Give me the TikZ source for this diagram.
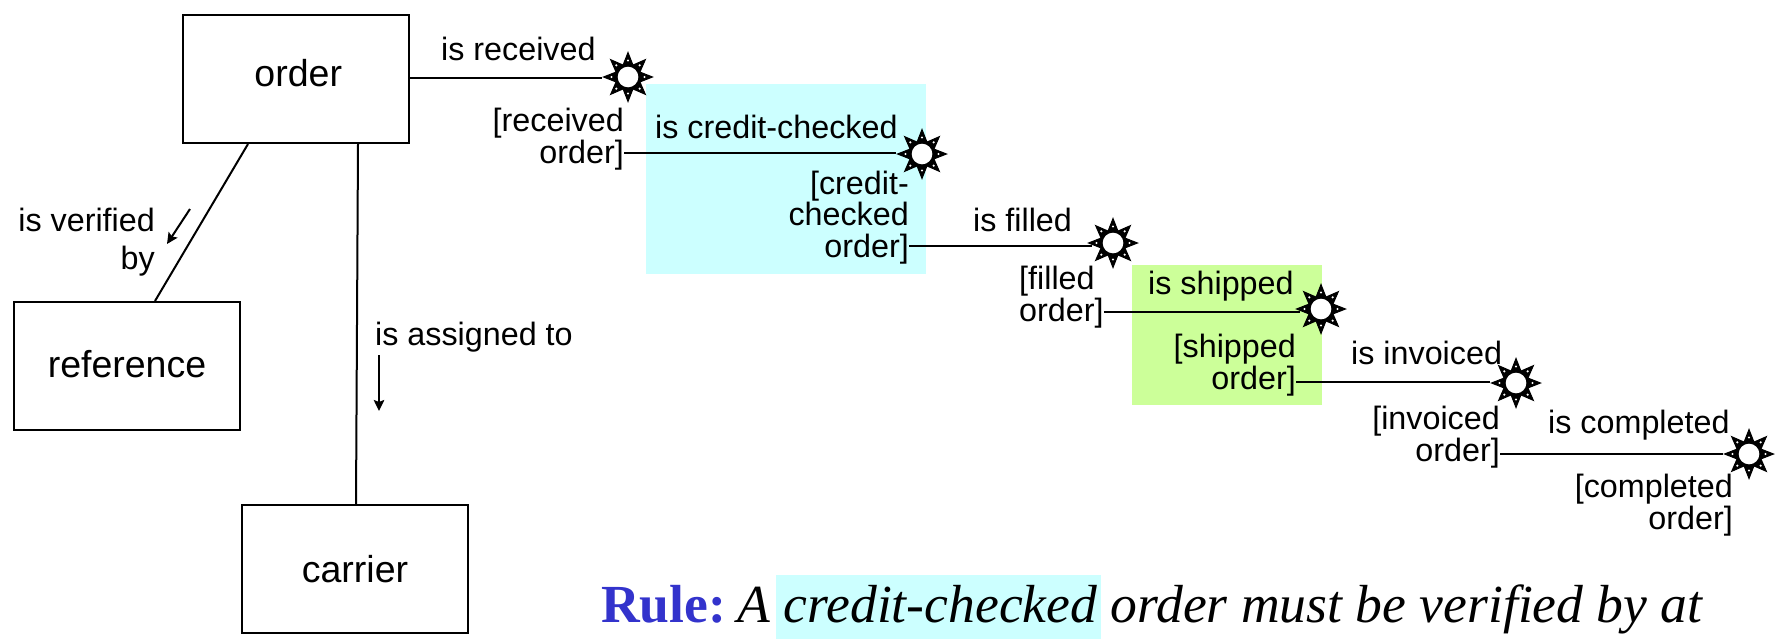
\documentclass[tikz,border=0pt]{standalone}
\usepackage{fontspec}
\setmainfont{Liberation Sans}
\newfontfamily\rulefont{Liberation Serif}
\usetikzlibrary{arrows.meta, positioning, shapes.geometric}
\definecolor{creditcyan}{HTML}{CCFFFF}
\definecolor{shipgreen}{HTML}{CCFF99}
\definecolor{ruleblue}{HTML}{3333CC}
\tikzset{
  typebox/.style={draw, rectangle, line width=2pt, minimum width=226pt, minimum height=128pt, font=\fontsize{37.5}{37.5}\selectfont},
  sunburst/.style={star, star points=8, star point ratio=1.9, draw, line width=1pt, fill=black, minimum size=49pt, inner sep=0pt,
    path picture={
      \fill[white] (path picture bounding box.center) circle (10.3pt);
      \foreach \ang in {0,45,...,315} {
        \fill[white] (path picture bounding box.center) ++(\ang:16.5pt) circle (1.2pt);
      }
    }},
  lbl/.style={inner sep=0pt, font=\fontsize{32.3}{31.5}\selectfont},
  link/.style={line width=2pt},
  hint/.style={line width=2pt, -{Stealth[length=11pt, width=10.5pt, inset=2pt]}},
}
\begin{document}
\begin{tikzpicture}[x=1pt, y=-1pt, on grid]
    \useasboundingbox (0,0) rectangle (1782,640);
    % Highlighted states
    \fill[creditcyan] (646,84) rectangle (926,274);
    \fill[shipgreen] (1132,265) rectangle (1322,405);
    \fill[creditcyan] (776,575) rectangle (1101,639);

    % Object types
    \node[typebox] (order) at (296,79) {\raisebox{12pt}{\hspace*{4.5pt}order}};
    \node[typebox, below left=287pt and 169pt of order] (reference) {\raisebox{4pt}{reference}};
    \node[typebox, below right=490pt and 59pt of order] (carrier) {carrier};

    % Life cycle of the order
    \node[sunburst] (received) at (628,77) {};
    \node[sunburst, below right=77pt and 294pt of received] (checked) {};
    \node[sunburst, below right=89pt and 191pt of checked] (filled) {};
    \node[sunburst, below right=66pt and 208pt of filled] (shipped) {};
    \node[sunburst, below right=74pt and 195pt of shipped] (invoiced) {};
    \node[sunburst, below right=71pt and 233pt of invoiced] (completed) {};

    \node[lbl, anchor=base west] (lreceived) at (441,60) {is received};
    \node[lbl, anchor=base east, align=right] (sreceived) at (624,163) {[received\\order]};
    \node[lbl, anchor=base west] (lchecked) at (655,138) {is credit-checked};
    \node[lbl, anchor=base east, align=right] (schecked) at (909,257) {[credit-\\checked\\order]};
    \node[lbl, anchor=base west] (lfilled) at (973,231) {is filled};
    \node[lbl, anchor=base west, align=left] (sfilled) at (1019,321) {[filled\\order]};
    \node[lbl, anchor=base west] (lshipped) at (1148,294) {is shipped};
    \node[lbl, anchor=base east, align=right] (sshipped) at (1296,389) {[shipped\\order]};
    \node[lbl, anchor=base west] (linvoiced) at (1351,364) {is invoiced};
    \node[lbl, anchor=base east, align=right] (sinvoiced) at (1500,461) {[invoiced\\order]};
    \node[lbl, anchor=base west] (lcompleted) at (1548,433) {is completed};
    \node[lbl, anchor=base east, align=right] (scompleted) at (1733,529) {[completed\\order]};

    \node[lbl, anchor=base east, align=right] (lverified) at (155,269) {is verified\\[6.5pt]by};
    \node[lbl, anchor=base west] (lassigned) at (375,345) {is assigned to};

    \coordinate (vstart) at (190,209);
    \coordinate (vend) at (167,244);
    \coordinate (astart) at (379,355);
    \coordinate (aend) at (379,411);

    \node[anchor=base west, inner sep=0pt, font=\rulefont\fontsize{53.6}{53.6}\selectfont] (rule) at (601,622)
      {\textcolor{ruleblue}{\textbf{Rule:}}\hspace{-6.5pt} \textit{A credit-checked order must be verified by at}};

    \draw[link] ([xshift=-48pt]order.south) -- ([xshift=28pt]reference.north);
    \draw[link] ([xshift=62pt]order.south) -- ([xshift=1pt]carrier.north);
    \draw[hint] (vstart) -- (vend);
    \draw[hint] (astart) -- (aend);

    \draw[link] ([yshift=-1pt]order.east |- received) -- ([yshift=-1pt]received.west);
    \draw[link] ([yshift=1pt]sreceived.east |- checked) -- ([yshift=1pt]checked.west);
    \draw[link] ([yshift=-3pt]schecked.east |- filled) -- ([shift={(5pt,-3pt)}]filled.west);
    \draw[link] ([yshift=-3pt]sfilled.east |- shipped) -- ([shift={(5pt,-3pt)}]shipped.west);
    \draw[link] ([yshift=1pt]sshipped.east |- invoiced) -- ([yshift=1pt]invoiced.west);
    \draw[link] (sinvoiced.east |- completed) -- (completed);
\end{tikzpicture}
\end{document}
